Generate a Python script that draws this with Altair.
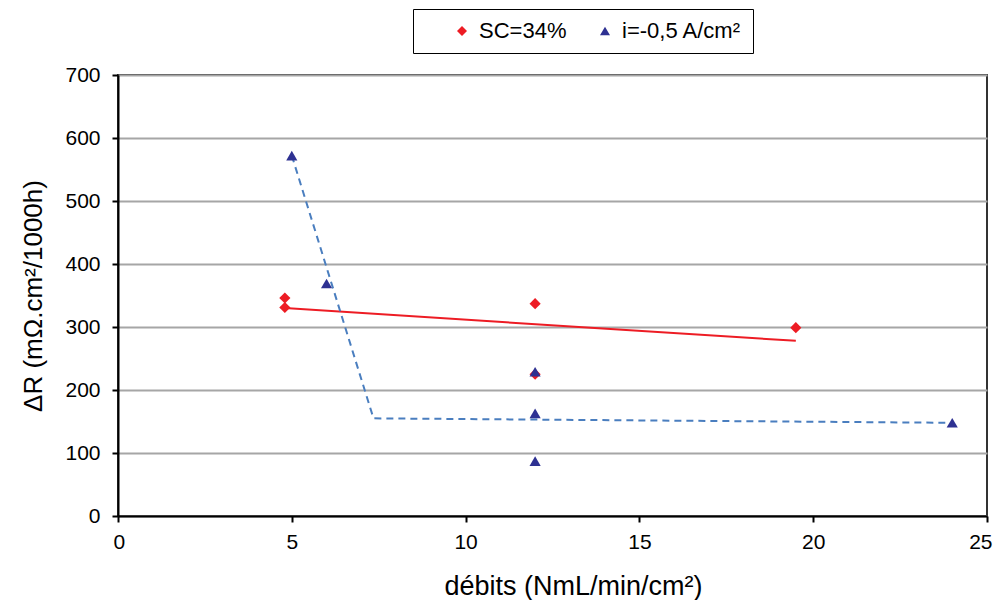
import altair as alt
import pandas as pd

# Scatter data
series = ["SC=34%", "SC=34%", "SC=34%", "SC=34%", "SC=34%",
          "i=-0,5 A/cm²", "i=-0,5 A/cm²", "i=-0,5 A/cm²", "i=-0,5 A/cm²", "i=-0,5 A/cm²", "i=-0,5 A/cm²"]
debits = [4.8, 4.8, 12.0, 12.0, 19.5,
          5.0, 6.0, 12.0, 12.0, 12.0, 24.0]
deltaR = [346, 331, 337, 225, 299,
          572, 369, 229, 163, 87, 148]

# Trend lines
red_x = [4.8, 19.5]
red_y = [330, 278]
blue_x = [5.0, 7.35, 23.8]
blue_y = [572, 155, 148]

series_order = ["SC=34%", "i=-0,5 A/cm²"]

pts = pd.DataFrame({"serie": series, "x": debits, "y": deltaR})
red = pd.DataFrame({"x": red_x, "y": red_y})
blue = pd.DataFrame({"x": blue_x, "y": blue_y})

FONT = "Liberation Sans"
NBSP_PAD = "\u00a0" * 6

xscale = alt.Scale(domain=[0, 25], nice=False, zero=True)
yscale = alt.Scale(domain=[0, 700], nice=False)

xaxis = alt.Axis(title="débits (NmL/min/cm²)", values=[0, 5, 10, 15, 20, 25], grid=False,
                 tickSize=6, labelPadding=9, titlePadding=21, titleFontSize=27, titleX=455,
                 labelFlush=True, labelFlushOffset=5)
yaxis = alt.Axis(title="ΔR (mΩ.cm²/1000h)", values=[0, 100, 200, 300, 400, 500, 600, 700],
                 grid=True, tickSize=6, labelPadding=12, titlePadding=18)

red_line = alt.Chart(red).mark_line(color="#ed1c24", strokeWidth=2).encode(
    x=alt.X("x:Q", scale=xscale, axis=xaxis),
    y=alt.Y("y:Q", scale=yscale, axis=yaxis),
)
blue_line = alt.Chart(blue).mark_line(color="#4a7ebf", strokeWidth=2, strokeDash=[7, 5]).encode(
    x=alt.X("x:Q", scale=xscale),
    y=alt.Y("y:Q", scale=yscale),
)
points = alt.Chart(pts).mark_point(filled=True, opacity=1, size=125).encode(
    x=alt.X("x:Q", scale=xscale),
    y=alt.Y("y:Q", scale=yscale),
    color=alt.Color("serie:N", scale=alt.Scale(domain=series_order, range=["#ed1c24", "#2e3192"]),
                    legend=alt.Legend(title=None, orient="none", direction="horizontal",
                                      legendX=295, legendY=-66,
                                      strokeColor="#000", padding=11,
                                      symbolOffset=27, columnPadding=0,
                                      labelFontSize=22, labelFont=FONT, labelColor="#000",
                                      symbolSize=100, labelOffset=6, labelLimit=300,
                                      labelExpr="datum.label == 'SC=34%' ? datum.label : datum.label + '" + NBSP_PAD + "'")),
    shape=alt.Shape("serie:N", scale=alt.Scale(domain=series_order, range=["diamond", "triangle-up"]),
                    legend=None),
)

chart = alt.layer(red_line, blue_line, points).properties(
    width=869, height=441,
    autosize=alt.AutoSizeParams(type="none"),
    padding={"left": 110, "top": 67, "right": 6, "bottom": 84},
).configure_view(
    stroke="#333", strokeWidth=2
).configure_axis(
    labelFont=FONT, titleFont=FONT, labelFontSize=21, titleFontSize=26,
    labelColor="#000", titleColor="#000", titleFontWeight="normal",
    domainColor="#000", domainWidth=2, tickColor="#000", tickWidth=2,
    gridColor="#a6a6a6", gridWidth=2,
)

chart.save("out.html", embed_options={"renderer": "svg", "actions": False})
